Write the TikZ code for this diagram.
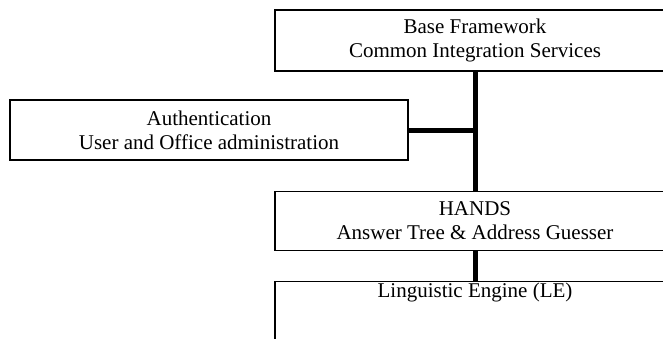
\documentclass[tikz,border=0pt]{standalone}
\usepackage{fontspec}
\setmainfont{Liberation Serif}
\usetikzlibrary{positioning}

\begin{document}
\begin{tikzpicture}[x=1pt,y=1pt,
  box/.style={rectangle, draw=black, line width=1.3pt, align=center, inner sep=0pt,
    minimum width=400pt, minimum height=61pt, font=\fontsize{21}{24}\selectfont},
  link/.style={line width=5pt}]
  \clip (0,0) rectangle (663,-338);
  \useasboundingbox (0,0) rectangle (663,-338);

  \node[box] (base) at (475,-40.5) {Base Framework\\Common Integration Services};
  \node[box, minimum width=398pt, minimum height=60pt] (auth) at (209,-130) {Authentication\\User and Office administration};
  \node[box, below = 119pt of base, minimum height=59pt] (hands) {HANDS\\Answer Tree \& Address Guesser};
  \node[box, below = 30pt of hands, minimum height=90pt,
    label={[anchor=north, inner sep=2pt, font=\fontsize{21}{24}\selectfont]north:Linguistic Engine (LE)}] (le) {};

  \coordinate (join) at (auth.east -| base.south);

  \draw[link] (base) -- (hands);
  \draw[link] (hands) -- (le);
  \draw[link] (auth) -- (join);

\end{tikzpicture}
\end{document}
